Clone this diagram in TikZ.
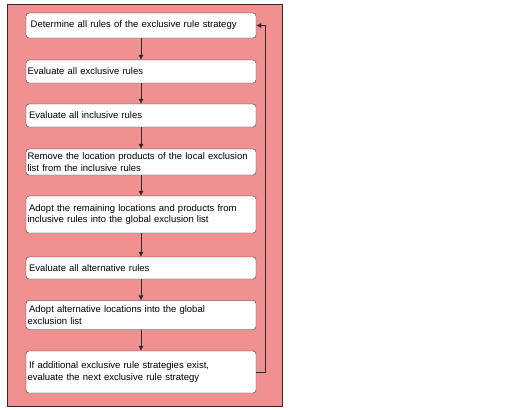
\documentclass[tikz,border=0pt]{standalone}
\usepackage{fontspec}
\setmainfont{Liberation Sans}
\usetikzlibrary{arrows.meta}
\definecolor{panelpink}{RGB}{240,144,144}
\definecolor{edgegray}{RGB}{50,40,40}
\tikzset{
    stepbox/.style={draw=edgegray, fill=white, rounded corners=3pt, minimum width=230pt,
        text width=227pt, inner xsep=1.5pt, align=left, font=\fontsize{9.5}{11.5}\selectfont},
    flow/.style={draw=edgegray, -{Latex[length=5pt,width=5pt]}}
}
\begin{document}
\begin{tikzpicture}[x=1pt,y=-1pt]
        \useasboundingbox (0,0) rectangle (512,410);
        % panel
        \draw[edgegray, fill=panelpink] (7,4) rectangle (282,406);

        % steps
        \node[stepbox, minimum height=25pt] (s1) at (141,25.5) {\ Determine all rules of the exclusive rule strategy};
        \node[stepbox, minimum height=23pt] (s2) at (141,71.5) {Evaluate all exclusive rules};
        \node[stepbox, minimum height=23pt] (s3) at (141,115.5) {\,Evaluate all inclusive rules};
        \node[stepbox, minimum height=26pt] (s4) at (141,162) {Remove the location products of the local exclusion\\list from the inclusive rules};
        \node[stepbox, minimum height=37pt] (s5) at (141,214.5) {\,Adopt the remaining locations and products from\\inclusive rules into the global exclusion list};
        \node[stepbox, minimum height=22pt] (s6) at (141,268) {\,Evaluate all alternative rules};
        \node[stepbox, minimum height=29pt] (s7) at (141,315) {\,Adopt alternative locations into the global\\exclusion list};
        \node[stepbox, minimum height=42pt] (s8) at (141,372) {\,If additional exclusive rule strategies exist,\\evaluate the next exclusive rule strategy};

        \foreach \a/\b in {s1/s2,s2/s3,s3/s4,s4/s5,s5/s6,s6/s7,s7/s8}
            \draw[flow] (\a) -- (\b);

        % loop back
        \draw[flow] (s8.east) -- ++(9,0) |- (s1.east);
    \end{tikzpicture}
\end{document}
